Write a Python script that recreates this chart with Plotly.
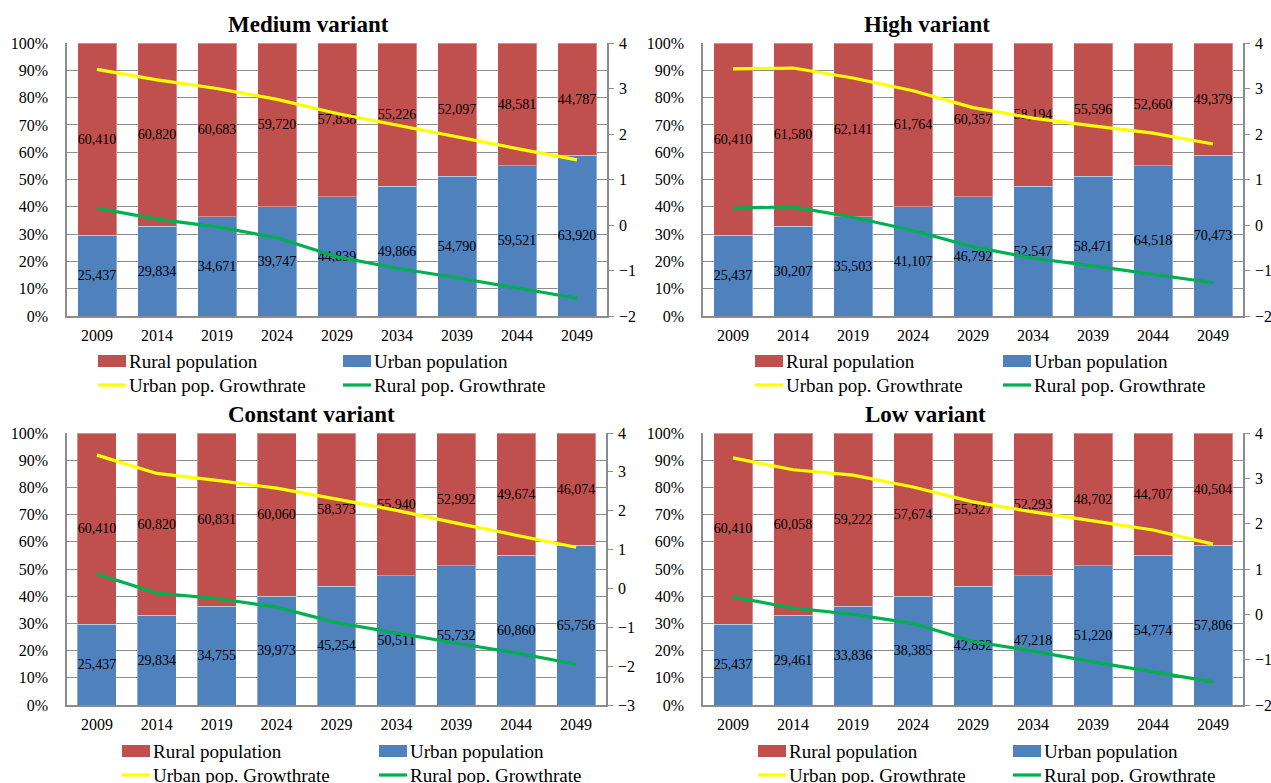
import plotly.graph_objects as go

years = ["2009", "2014", "2019", "2024", "2029", "2034", "2039", "2044", "2049"]

medium_urban = [25437, 29834, 34671, 39747, 44839, 49866, 54790, 59521, 63920]
medium_rural = [60410, 60820, 60683, 59720, 57838, 55226, 52097, 48581, 44787]
medium_urban_growth = [3.42, 3.19, 3.0, 2.76, 2.45, 2.19, 1.93, 1.68, 1.43]
medium_rural_growth = [0.37, 0.13, -0.04, -0.28, -0.70, -0.95, -1.16, -1.39, -1.61]

high_urban = [25437, 30207, 35503, 41107, 46792, 52547, 58471, 64518, 70473]
high_rural = [60410, 61580, 62141, 61764, 60357, 58194, 55596, 52660, 49379]
high_urban_growth = [3.43, 3.45, 3.23, 2.95, 2.58, 2.35, 2.18, 2.02, 1.78]
high_rural_growth = [0.37, 0.40, 0.17, -0.12, -0.48, -0.73, -0.90, -1.08, -1.27]

constant_urban = [25437, 29834, 34755, 39973, 45254, 50511, 55732, 60860, 65756]
constant_rural = [60410, 60820, 60831, 60060, 58373, 55940, 52992, 49674, 46074]
constant_urban_growth = [3.43, 2.96, 2.78, 2.58, 2.30, 2.01, 1.68, 1.37, 1.06]
constant_rural_growth = [0.37, -0.12, -0.26, -0.48, -0.88, -1.15, -1.41, -1.66, -1.95]

low_urban = [25437, 29461, 33836, 38385, 42892, 47218, 51220, 54774, 57806]
low_rural = [60410, 60058, 59222, 57674, 55327, 52293, 48702, 44707, 40504]
low_urban_growth = [3.45, 3.19, 3.07, 2.81, 2.48, 2.26, 2.06, 1.86, 1.55]
low_rural_growth = [0.38, 0.14, 0.0, -0.20, -0.60, -0.81, -1.05, -1.27, -1.49]

titles = ["Medium variant", "High variant", "Constant variant", "Low variant"]
legend_names = ["Rural population", "Urban population", "Urban pop. Growthrate", "Rural pop. Growthrate"]

RED = "#C0504D"
BLUE = "#4F81BD"
YELLOW = "#FFFF00"
GREEN = "#00B050"
GRID = "#8C8C8C"
FONT = "Liberation Serif, Times New Roman, serif"

W, H = 1271, 783


def fx(x):
    return x / W


def fy(y):
    return 1 - y / H


panels = [
    dict(urban=medium_urban, rural=medium_rural, ug=medium_urban_growth, rg=medium_rural_growth,
         y2=[-2, 4], box=(67, 607, 43, 316), title_xy=(308, 24), leg=(98, 343, 361, 385)),
    dict(urban=high_urban, rural=high_rural, ug=high_urban_growth, rg=high_rural_growth,
         y2=[-2, 4], box=(703, 1243, 43, 316), title_xy=(927, 24), leg=(755, 1003, 361, 385)),
    dict(urban=constant_urban, rural=constant_rural, ug=constant_urban_growth, rg=constant_rural_growth,
         y2=[-3, 4], box=(67, 606, 433, 705), title_xy=(311, 414), leg=(122, 379, 751, 775)),
    dict(urban=low_urban, rural=low_rural, ug=low_urban_growth, rg=low_rural_growth,
         y2=[-2, 4], box=(703, 1243, 433, 705), title_xy=(925, 414), leg=(758, 1013, 751, 775)),
]

fig = go.Figure()
layout = {}
annotations = []
shapes = []

for i, p in enumerate(panels):
    xref = "x" if i == 0 else f"x{i+1}"
    xname = "xaxis" if i == 0 else f"xaxis{i+1}"
    i1, i2 = 2 * i + 1, 2 * i + 2
    y1ref = "y" if i1 == 1 else f"y{i1}"
    y1name = "yaxis" if i1 == 1 else f"yaxis{i1}"
    y2ref = f"y{i2}"
    y2name = f"yaxis{i2}"
    l, r, t, b = p["box"]

    fig.add_trace(go.Bar(
        x=years, y=p["urban"], xaxis=xref, yaxis=y1ref, name=legend_names[1],
        marker=dict(color=BLUE, line=dict(color="rgba(255,255,255,0.35)", width=1)),
        text=[f"{v:,}" for v in p["urban"]], textposition="inside", insidetextanchor="middle",
        textangle=0, constraintext="none", textfont=dict(family=FONT, size=14, color="black"),
        showlegend=False, hoverinfo="skip"))
    fig.add_trace(go.Bar(
        x=years, y=p["rural"], xaxis=xref, yaxis=y1ref, name=legend_names[0],
        marker=dict(color=RED, line=dict(color="rgba(255,255,255,0.35)", width=1)),
        text=[f"{v:,}" for v in p["rural"]], textposition="inside", insidetextanchor="middle",
        textangle=0, constraintext="none", textfont=dict(family=FONT, size=14, color="black"),
        showlegend=False, hoverinfo="skip"))
    fig.add_trace(go.Scatter(
        x=years, y=p["ug"], xaxis=xref, yaxis=y2ref, mode="lines", name=legend_names[2],
        line=dict(color=YELLOW, width=3.2), showlegend=False, hoverinfo="skip"))
    fig.add_trace(go.Scatter(
        x=years, y=p["rg"], xaxis=xref, yaxis=y2ref, mode="lines", name=legend_names[3],
        line=dict(color=GREEN, width=3.2), showlegend=False, hoverinfo="skip"))

    layout[xname] = dict(
        domain=[fx(l), fx(r)], anchor=y1ref, type="category", showgrid=False, automargin=False,
        showline=True, linecolor=GRID, linewidth=1.5, ticks="", ticklabelstandoff=4,
        ticklabeloverflow="allow",
        tickfont=dict(family=FONT, size=16, color="black"), fixedrange=True)
    layout[y1name] = dict(
        domain=[fy(b), fy(t)], anchor=xref, range=[0, 100], dtick=10, ticksuffix="%",
        showgrid=True, gridcolor=GRID, gridwidth=1, showline=True, linecolor=GRID, linewidth=1.5,
        zeroline=False, ticks="", ticklabelstandoff=14, automargin=False,
        ticklabeloverflow="allow",
        tickfont=dict(family=FONT, size=16, color="black"), fixedrange=True)
    layout[y2name] = dict(
        overlaying=y1ref, side="right", anchor=xref, range=p["y2"], dtick=1,
        showgrid=False, zeroline=False, showline=True, linecolor=GRID, linewidth=1.5,
        ticks="outside", ticklen=5, tickcolor=GRID, ticklabelstandoff=2, automargin=False,
        ticklabeloverflow="allow",
        tickfont=dict(family=FONT, size=16, color="black"), fixedrange=True)

    tx, ty = p["title_xy"]
    annotations.append(dict(
        x=fx(tx), y=fy(ty), xref="paper", yref="paper", text="<b>" + titles[i] + "</b>",
        showarrow=False, xanchor="center", yanchor="middle",
        font=dict(family=FONT, size=23, color="black")))

    s1, s2, r1, r2 = p["leg"]
    sw = 28
    shapes.append(dict(type="rect", xref="paper", yref="paper", x0=fx(s1), x1=fx(s1 + sw),
                       y0=fy(r1 + 6), y1=fy(r1 - 6), fillcolor=RED, line=dict(width=0)))
    shapes.append(dict(type="rect", xref="paper", yref="paper", x0=fx(s2), x1=fx(s2 + sw),
                       y0=fy(r1 + 6), y1=fy(r1 - 6), fillcolor=BLUE, line=dict(width=0)))
    shapes.append(dict(type="line", xref="paper", yref="paper", x0=fx(s1), x1=fx(s1 + sw),
                       y0=fy(r2), y1=fy(r2), line=dict(color=YELLOW, width=3.2)))
    shapes.append(dict(type="line", xref="paper", yref="paper", x0=fx(s2), x1=fx(s2 + sw),
                       y0=fy(r2), y1=fy(r2), line=dict(color=GREEN, width=3.2)))
    for (sx, ry, name) in [(s1, r1, legend_names[0]), (s2, r1, legend_names[1]),
                           (s1, r2, legend_names[2]), (s2, r2, legend_names[3])]:
        annotations.append(dict(
            x=fx(sx + sw + 1), y=fy(ry), xref="paper", yref="paper", text=name,
            showarrow=False, xanchor="left", yanchor="middle",
            font=dict(family=FONT, size=19, color="black")))

fig.update_layout(
    width=W, height=H, margin=dict(l=0, r=0, t=0, b=0, autoexpand=False),
    paper_bgcolor="white", plot_bgcolor="white",
    barmode="stack", barnorm="percent", bargap=0.35,
    showlegend=False, annotations=annotations, shapes=shapes,
    font=dict(family=FONT, color="black"),
    **layout)

# remove the default 8px page margin so the 1271x783 figure fills the window exactly
fig.write_html("out.html",
               config={"displayModeBar": False},
               post_script="document.body.style.margin='0';document.body.style.overflow='hidden';")
